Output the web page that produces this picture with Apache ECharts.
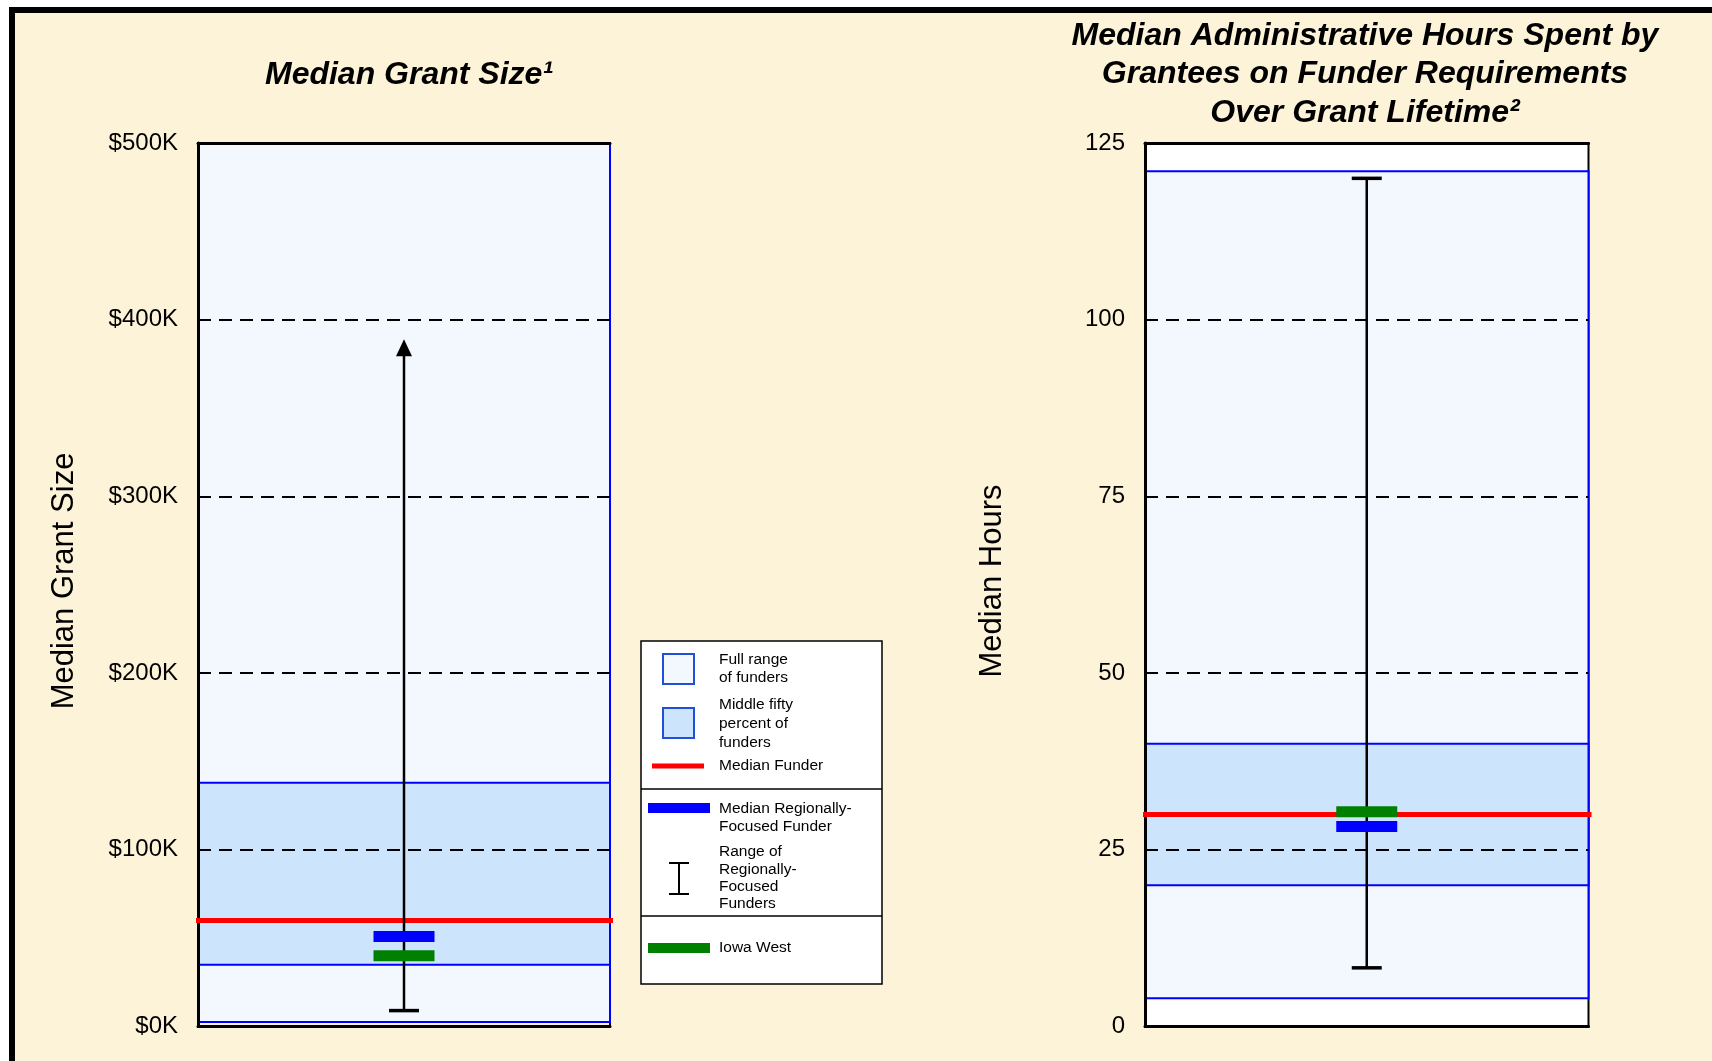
<!DOCTYPE html>
<html><head><meta charset="utf-8">
<script src="https://cdn.jsdelivr.net/npm/echarts@6/dist/echarts.min.js"></script>
<style>html,body{margin:0;padding:0;background:#fff;}#c{width:1712px;height:1061px;}</style>
</head><body><div id="c"></div>
<script>
// ---- data ----
const grantTickLabels = ['$0K', '$100K', '$200K', '$300K', '$400K', '$500K'];
const hoursTickLabels = ['0', '25', '50', '75', '100', '125'];

// Median grant size, in $K
const grantFullRange = [2.5, 520];
const grantMiddleFifty = [35, 138];
const grantMedianFunder = 60;
const grantRegionalMedian = 51;
const grantIowaWest = 40;
const grantRegionalRange = [9, 389];

// Median administrative hours
const hoursFullRange = [4, 121];
const hoursMiddleFifty = [20, 40];
const hoursMedianFunder = 30;
const hoursRegionalMedian = 28.3;
const hoursIowaWest = 30.4;
const hoursRegionalRange = [8.3, 120];

// ---- chart ----
const FONT = "'Liberation Sans', Arial, sans-serif";
const chart = echarts.init(document.getElementById('c'));

function yAxisCfg(gridIndex, max, interval, labels) {
  return {
    type: 'value', gridIndex, min: 0, max, interval, z: 3,
    axisLine: { show: true, lineStyle: { color: '#000', width: 3 } },
    axisTick: { show: false },
    axisLabel: {
      formatter: v => labels[Math.round(v / interval)],
      color: '#000', fontFamily: FONT, fontSize: 24, margin: 20, padding: [4, 0, 0, 0]
    },
    splitLine: { show: true, lineStyle: { color: '#000', type: [13, 8], width: 2 } }
  };
}
function xAxisCfg(gridIndex, position) {
  return {
    type: 'value', gridIndex, min: 0, max: 1, position, z: 3,
    axisLine: { show: true, onZero: false, lineStyle: { color: '#000', width: 3 } },
    axisTick: { show: false }, axisLabel: { show: false }, splitLine: { show: false }
  };
}

function fillSeries(gi, full, mid) {
  return {
    type: 'custom', xAxisIndex: gi * 2, yAxisIndex: gi, z: 2, silent: true,
    data: [[0.5, full[0], full[1], mid[0], mid[1]]],
    renderItem(params, api) {
      const cs = params.coordSys;
      const clip = { x: cs.x, y: cs.y, width: cs.width, height: cs.height };
      const rectFor = (lo, hi) => {
        const a = api.coord([0, lo])[1], b = api.coord([0, hi])[1];
        return echarts.graphic.clipRectByRect(
          { x: cs.x, y: Math.min(a, b), width: cs.width, height: Math.abs(a - b) }, clip);
      };
      return {
        type: 'group',
        children: [
          { type: 'rect', shape: rectFor(api.value(1), api.value(2)),
            style: { fill: '#f3f7fe', stroke: '#0000ff', lineWidth: 2 } },
          { type: 'rect', shape: rectFor(api.value(3), api.value(4)),
            style: { fill: '#cce4fc', stroke: '#0000ff', lineWidth: 2 } }
        ]
      };
    }
  };
}

function markSeries(gi, median, regional, iowa, range, arrowTop) {
  return {
    type: 'custom', xAxisIndex: gi * 2, yAxisIndex: gi, z: 4, silent: true,
    data: [[0.5, median, regional, iowa, range[0], range[1]]],
    renderItem(params, api) {
      const cs = params.coordSys;
      const cx = api.coord([api.value(0), 0])[0];
      const y = i => api.coord([0, api.value(i)])[1];
      const yMed = y(1), yReg = y(2), yIowa = y(3), yLo = y(4), yHi = y(5);
      const kids = [
        { type: 'line', shape: { x1: cs.x - 2, y1: yMed, x2: cs.x + cs.width + 3, y2: yMed },
          style: { stroke: '#ff0000', lineWidth: 5 } },
        { type: 'line', shape: { x1: cx, y1: yLo, x2: cx, y2: arrowTop ? yHi + 8 : yHi },
          style: { stroke: '#000', lineWidth: 2.5 } },
        { type: 'line', shape: { x1: cx - 15, y1: yLo, x2: cx + 15, y2: yLo },
          style: { stroke: '#000', lineWidth: 3.5 } }
      ];
      if (arrowTop) {
        kids.push({ type: 'polygon', shape: { points: [[cx, yHi], [cx - 8, yHi + 17], [cx + 8, yHi + 17]] },
          style: { fill: '#000' } });
      } else {
        kids.push({ type: 'line', shape: { x1: cx - 15, y1: yHi, x2: cx + 15, y2: yHi },
          style: { stroke: '#000', lineWidth: 3.5 } });
      }
      kids.push({ type: 'rect', shape: { x: cx - 30.5, y: yReg - 5.5, width: 61, height: 11 },
        style: { fill: '#0000ff' } });
      kids.push({ type: 'rect', shape: { x: cx - 30.5, y: yIowa - 5.5, width: 61, height: 11 },
        style: { fill: '#008000' } });
      return { type: 'group', children: kids };
    }
  };
}

function txt(x, y, text, font, extra) {
  return Object.assign({ type: 'text', x, y, z: 10,
    style: Object.assign({ text, font, fill: '#000', textAlign: 'center', textVerticalAlign: 'middle',
      align: 'center', verticalAlign: 'middle' }, extra || {}) });
}
function legText(x, yFirst, lines, lh) {
  return { type: 'text', x, y: yFirst - lh / 2, z: 12,
    style: { text: lines, font: "15.5px 'Liberation Sans'", fill: '#000', lineHeight: lh,
      textAlign: 'left', align: 'left', textVerticalAlign: 'top', verticalAlign: 'top' } };
}

const graphics = [
  { type: 'rect', z: 1, shape: { x: 0, y: 0, width: 1712, height: 7 }, style: { fill: '#fff' } },
  { type: 'rect', z: 1, shape: { x: 0, y: 0, width: 9, height: 1061 }, style: { fill: '#fff' } },
  { type: 'rect', z: 1, shape: { x: 9, y: 7, width: 1703, height: 6 }, style: { fill: '#000' } },
  { type: 'rect', z: 1, shape: { x: 9, y: 7, width: 6, height: 1054 }, style: { fill: '#000' } },
  txt(409, 75, 'Median Grant Size\u00b9', "italic bold 32px 'Liberation Sans'"),
  { type: 'text', x: 1365, y: 16.75, z: 10,
    style: { text: 'Median Administrative Hours Spent by\nGrantees on Funder Requirements\nOver Grant Lifetime\u00b2',
      font: "italic bold 32px 'Liberation Sans'", fill: '#000', lineHeight: 38.5,
      textAlign: 'center', align: 'center', textVerticalAlign: 'top', verticalAlign: 'top' } },
  Object.assign(txt(64, 581, 'Median Grant Size', "31px 'Liberation Sans'"), { rotation: Math.PI / 2 }),
  Object.assign(txt(992, 581, 'Median Hours', "31px 'Liberation Sans'"), { rotation: Math.PI / 2 }),
  // legend
  { type: 'rect', z: 11, shape: { x: 641, y: 641, width: 241, height: 343 },
    style: { fill: '#fff', stroke: '#000', lineWidth: 1.5 } },
  { type: 'line', z: 11, shape: { x1: 641, y1: 789, x2: 882, y2: 789 }, style: { stroke: '#000', lineWidth: 1.5 } },
  { type: 'line', z: 11, shape: { x1: 641, y1: 916, x2: 882, y2: 916 }, style: { stroke: '#000', lineWidth: 1.5 } },
  { type: 'rect', z: 12, shape: { x: 663, y: 654, width: 31, height: 30 },
    style: { fill: '#f3f7fe', stroke: '#2050d8', lineWidth: 2 } },
  legText(719, 660, 'Full range\nof funders', 18),
  { type: 'rect', z: 12, shape: { x: 663, y: 708, width: 31, height: 30 },
    style: { fill: '#cce4fc', stroke: '#2050d8', lineWidth: 2 } },
  legText(719, 705, 'Middle fifty\npercent of\nfunders', 18.7),
  { type: 'line', z: 12, shape: { x1: 652, y1: 766, x2: 704, y2: 766 }, style: { stroke: '#ff0000', lineWidth: 5 } },
  legText(719, 766, 'Median Funder', 18),
  { type: 'rect', z: 12, shape: { x: 648, y: 803, width: 62, height: 10 }, style: { fill: '#0000ff' } },
  legText(719, 809, 'Median Regionally-\nFocused Funder', 17.7),
  { type: 'line', z: 12, shape: { x1: 679, y1: 863, x2: 679, y2: 894 }, style: { stroke: '#000', lineWidth: 2 } },
  { type: 'line', z: 12, shape: { x1: 669, y1: 863, x2: 689, y2: 863 }, style: { stroke: '#000', lineWidth: 2 } },
  { type: 'line', z: 12, shape: { x1: 669, y1: 894, x2: 689, y2: 894 }, style: { stroke: '#000', lineWidth: 2 } },
  legText(719, 852, 'Range of\nRegionally-\nFocused\nFunders', 17.4),
  { type: 'rect', z: 12, shape: { x: 648, y: 943, width: 62, height: 10 }, style: { fill: '#008000' } },
  legText(719, 948, 'Iowa West', 18)
];

chart.setOption({
  backgroundColor: '#fdf3d8',
  animation: false,
  grid: [
    { left: 198, top: 143, width: 412, height: 883.5, show: true, borderColor: '#000', borderWidth: 2, backgroundColor: 'transparent' },
    { left: 1145, top: 143, width: 443.5, height: 883.5, show: true, borderColor: '#000', borderWidth: 2, backgroundColor: '#fff' }
  ],
  xAxis: [xAxisCfg(0, 'bottom'), xAxisCfg(0, 'top'), xAxisCfg(1, 'bottom'), xAxisCfg(1, 'top')],
  yAxis: [yAxisCfg(0, 500, 100, grantTickLabels), yAxisCfg(1, 125, 25, hoursTickLabels)],
  series: [
    fillSeries(0, grantFullRange, grantMiddleFifty),
    markSeries(0, grantMedianFunder, grantRegionalMedian, grantIowaWest, grantRegionalRange, true),
    fillSeries(1, hoursFullRange, hoursMiddleFifty),
    markSeries(1, hoursMedianFunder, hoursRegionalMedian, hoursIowaWest, hoursRegionalRange, false)
  ],
  graphic: graphics
});
</script>
</body></html>
